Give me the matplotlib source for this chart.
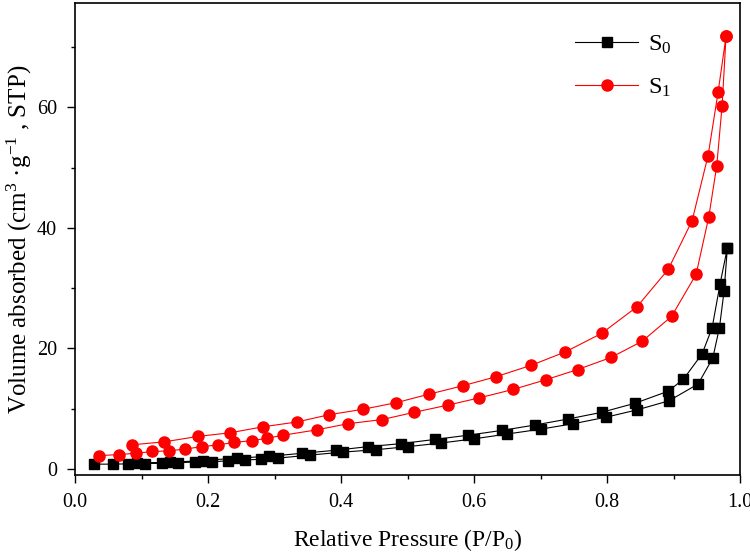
import matplotlib
matplotlib.use("Agg")
import matplotlib.pyplot as plt
from matplotlib.ticker import MultipleLocator

plt.rcParams['font.family'] = ['Liberation Serif', 'DejaVu Serif']
plt.rcParams['mathtext.fontset'] = 'custom'
plt.rcParams['mathtext.rm'] = 'Liberation Serif'
plt.rcParams['mathtext.it'] = 'Liberation Serif:italic'

# S0 adsorption (ascending) and desorption (descending)
s0_ads_x = [0.029, 0.057, 0.080, 0.105, 0.131, 0.155, 0.180, 0.206, 0.230, 0.256, 0.280, 0.305,
            0.353, 0.403, 0.453, 0.500, 0.550, 0.600, 0.650, 0.700, 0.749, 0.799, 0.845, 0.893,
            0.937, 0.959, 0.969, 0.976, 0.981]
s0_ads_y = [0.8, 0.8, 0.85, 0.9, 1.0, 1.05, 1.15, 1.2, 1.35, 1.5, 1.6, 1.8,
            2.3, 2.8, 3.2, 3.7, 4.3, 5.0, 5.8, 6.6, 7.5, 8.6, 9.8, 11.3,
            14.1, 18.4, 23.4, 29.5, 36.7]
s0_des_x = [0.981, 0.970, 0.958, 0.943, 0.915, 0.892, 0.842, 0.792, 0.742, 0.692, 0.642, 0.591,
            0.541, 0.490, 0.440, 0.392, 0.341, 0.292, 0.243, 0.193, 0.143, 0.093]
s0_des_y = [36.7, 30.7, 23.4, 19.1, 14.9, 12.9, 10.9, 9.4, 8.3, 7.3, 6.4, 5.6,
            4.9, 4.2, 3.7, 3.1, 2.6, 2.1, 1.8, 1.4, 1.1, 0.95]

# S1 adsorption (ascending) and desorption (descending)
s1_ads_x = [0.036, 0.066, 0.092, 0.116, 0.141, 0.165, 0.191, 0.215, 0.239, 0.266, 0.289, 0.313,
            0.364, 0.410, 0.462, 0.510, 0.561, 0.608, 0.659, 0.708, 0.756, 0.806, 0.853, 0.897,
            0.934, 0.953, 0.965, 0.973, 0.979]
s1_ads_y = [2.2, 2.4, 2.6, 2.9, 3.0, 3.3, 3.7, 4.0, 4.4, 4.7, 5.1, 5.6,
            6.5, 7.5, 8.2, 9.4, 10.6, 11.8, 13.2, 14.8, 16.5, 18.5, 21.2, 25.3,
            32.3, 41.8, 50.3, 60.2, 71.8]
s1_des_x = [0.979, 0.967, 0.952, 0.928, 0.892, 0.845, 0.792, 0.737, 0.686, 0.633, 0.583, 0.532,
            0.483, 0.433, 0.382, 0.334, 0.283, 0.233, 0.185, 0.134, 0.085]
s1_des_y = [71.8, 62.5, 52.0, 41.2, 33.1, 26.9, 22.5, 19.4, 17.2, 15.3, 13.8, 12.4,
            11.0, 9.9, 9.0, 7.8, 7.0, 6.0, 5.4, 4.5, 4.0]

labels = ['S$_{0}$', 'S$_{1}$']

fig = plt.figure(figsize=(7.5, 5.54), dpi=100)
ax = fig.add_axes([0.1, 0.1426, 0.8867, 0.852])

ax.plot(s0_ads_x + s0_des_x, s0_ads_y + s0_des_y, color='black', lw=0.8,
        marker='s', ms=7, mec='black', mfc='black', label=labels[0])
ax.plot(s1_ads_x + s1_des_x, s1_ads_y + s1_des_y, color='red', lw=0.8,
        marker='o', ms=8, mec='red', mfc='red', label=labels[1])

ax.set_xlim(0.0, 1.0)
ax.set_ylim(-1.0, 77.3)
ax.xaxis.set_major_locator(MultipleLocator(0.2))
ax.xaxis.set_minor_locator(MultipleLocator(0.1))
ax.yaxis.set_major_locator(MultipleLocator(20))
ax.yaxis.set_minor_locator(MultipleLocator(10))
ax.xaxis.set_major_formatter(plt.FuncFormatter(lambda v, p: f"{v:.1f}"))
ax.yaxis.set_major_formatter(plt.FuncFormatter(lambda v, p: f"{v:.0f}"))
ax.tick_params(which='major', direction='out', length=6, width=1, labelsize=14.5, pad=7)
ax.tick_params(which='minor', direction='out', length=3, width=1)
for s in ax.spines.values():
    s.set_linewidth(1.2)

ax.set_xlabel('Relative Pressure (P/P$_{0}$)', fontsize=17, labelpad=11)
ax.set_ylabel('Volume absorbed (cm$^{3}$ ·g$^{-1}$ , STP)', fontsize=18, labelpad=2)

ax.legend(loc='upper right', bbox_to_anchor=(0.93, 0.982), frameon=False, fontsize=17.5,
          handlelength=2.6, handletextpad=0.4, labelspacing=0.85)

fig.savefig('out.png', dpi=100)
